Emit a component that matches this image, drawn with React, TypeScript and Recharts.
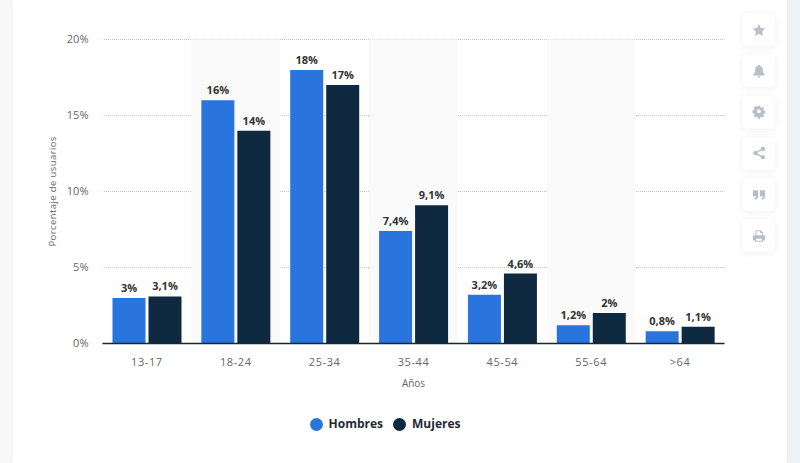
import React from 'react';
import { BarChart, Bar, XAxis, YAxis, CartesianGrid, ReferenceArea, LabelList, Legend } from 'recharts';

const AGE_GROUPS = ['13-17', '18-24', '25-34', '35-44', '45-54', '55-64', '>64'];
const HOMBRES = [3, 16, 18, 7.4, 3.2, 1.2, 0.8];
const MUJERES = [3.1, 14, 17, 9.1, 4.6, 2, 1.1];
const Y_TICKS = [0, 5, 10, 15, 20];
const SHADED_GROUPS = ['18-24', '35-44', '55-64'];

const chartData = AGE_GROUPS.map((age, i) => ({ age, hombres: HOMBRES[i], mujeres: MUJERES[i] }));

const FONT = '"Open Sans", sans-serif';
const formatPercent = (v: number | string) => `${String(v).replace('.', ',')}%`;

const ICONS: React.ReactNode[] = [
  <path d="M8 1l2.2 4.6 5 .7-3.6 3.5.9 5L8 12.4l-4.500 2.400.9-5L.8 6.300l5-.7z" />,
  <path d="M8 1a1.300 1.300 0 0 1 1.300 1.400C11.600 3 12.500 5 12.500 7.500c0 2.500 1 3.600 2 4.500v1h-13v-1c1-.9 2-2 2-4.500 0-2.500.9-4.500 3.200-5.100A1.300 1.300 0 0 1 8 1zM6.300 14h3.400A1.700 1.700 0 0 1 6.300 14z" />,
  <path fillRule="evenodd" d="M6.600 1h2.800l.4 2 1.300.6 1.800-1 1.900 2-1 1.700.5 1.300 2 .5v2.800l-2 .4-.6 1.300 1 1.800-1.900 1.900-1.700-1-1.400.5-.4 2H6.600l-.4-2-1.300-.6-1.800 1-1.900-1.900 1-1.700-.5-1.400-2-.4V6.800l2-.4.6-1.300-1-1.800 1.900-1.900 1.700 1 1.400-.5zM8 5.500a2.500 2.500 0 1 0 0 5 2.500 2.500 0 0 0 0-5z" transform="scale(.88) translate(1 0)" />,
  <path d="M12.500 1a2.500 2.500 0 1 1-1.900 4.100L6.400 7.300a2.500 2.500 0 0 1 0 1.400l4.200 2.200a2.500 2.500 0 1 1-.7 1.300L5.700 9.900a2.500 2.500 0 1 1 0-3.800l4.200-2.300A2.500 2.500 0 0 1 12.500 1z" />,
  <path d="M1 2.500h6V9c0 2.500-1.500 4-4 4.500v-2c1-.3 1.500-.9 1.600-2H1zM9 2.500h6V9c0 2.500-1.500 4-4 4.500v-2c1-.3 1.500-.9 1.600-2H9z" />,
  <path d="M4 1.500h6l2.500 2.500v3h1.500a1.500 1.500 0 0 1 1 1.400V12a1 1 0 0 1-1 1h-1.500v1.500h-9V13H2a1 1 0 0 1-1-1V8.400A1.500 1.500 0 0 1 2.500 7H4zM5.200 2.700V7h6.100V4.700H9.300v-2zM4.700 11.200v2.100h6.600v-2.100z" />,
];

const ActionButtons = () => (
  <div style={{ position: 'absolute', left: 742, top: 13, display: 'flex', flexDirection: 'column', gap: 8.3 }}>
    {ICONS.map((icon, i) => (
      <div
        key={i}
        style={{
          width: 33,
          height: 33,
          background: '#fff',
          borderRadius: 5,
          boxShadow: '0 1px 6px rgba(60,70,90,0.08)',
          display: 'flex',
          alignItems: 'center',
          justifyContent: 'center',
        }}
      >
        <svg width="14" height="14" viewBox="0 0 16 16" fill="#b9bec8">{icon}</svg>
      </div>
    ))}
  </div>
);

const App: React.FC = () => {
  return (
    <div style={{ position: 'absolute', left: 0, top: 0, width: 800, height: 463, overflow: 'hidden', background: 'linear-gradient(90deg, #f8f8f8 0 50%, #eff1f4 50% 100%)' }}>
      <div style={{ position: 'absolute', left: 13, top: 0, width: 774, height: 463, background: '#fff', boxShadow: '0 0 6px rgba(0,0,0,0.03)' }} />
      <div style={{ position: 'absolute', left: 0, top: 0 }}>
        <BarChart
          width={800}
          height={463}
          data={chartData}
          margin={{ top: 39.5, right: 75.5, bottom: 72.5, left: 42.5 }}
          barCategoryGap={10}
          barGap={3}
        >
          {SHADED_GROUPS.map((g) => (
            <ReferenceArea key={g} x1={g} x2={g} fill="#fafafa" fillOpacity={1} stroke="none" />
          ))}
          <CartesianGrid vertical={false} stroke="#bfc3c8" strokeDasharray="1 1" strokeDashoffset={0.5} />
          <XAxis
            dataKey="age"
            tickLine={false}
            axisLine={{ stroke: '#1b2733', strokeWidth: 1.5 }}
            tick={{ fontFamily: FONT, fontSize: 11, fill: '#666', letterSpacing: 0.6 }}
            tickMargin={9}
            height={30}
            label={{ value: 'Años', position: 'insideBottom', offset: -13, fontFamily: FONT, fontSize: 10, fill: '#666' }}
          />
          <YAxis
            width={60}
            domain={[0, 20]}
            ticks={Y_TICKS}
            tickFormatter={formatPercent}
            axisLine={false}
            tickLine={false}
            tick={{ fontFamily: FONT, fontSize: 11, fill: '#666' }}
            tickMargin={8}
            label={{ value: 'Porcentaje de usuarios', angle: -90, position: 'insideLeft', offset: 10, dy: 55, fontFamily: FONT, fontSize: 9.5, fill: '#666', letterSpacing: 0.4 }}
          />
          <Legend
            verticalAlign="bottom"
            iconType="circle"
            iconSize={13}
            wrapperStyle={{ position: 'absolute', left: 79, width: 622, bottom: 31, fontFamily: FONT, fontSize: 12, fontWeight: 700 }}
            formatter={(value: string) => <span style={{ color: '#1f2a36', marginLeft: 2 }}>{value}</span>}
          />
          <Bar dataKey="hombres" name="Hombres" fill="#2a74dd" isAnimationActive={false}>
            <LabelList dataKey="hombres" position="top" offset={6} formatter={formatPercent} style={{ fontFamily: FONT, fontSize: 11, fontWeight: 700, fill: '#333' }} />
          </Bar>
          <Bar dataKey="mujeres" name="Mujeres" fill="#0f2a40" isAnimationActive={false}>
            <LabelList dataKey="mujeres" position="top" offset={6} formatter={formatPercent} style={{ fontFamily: FONT, fontSize: 11, fontWeight: 700, fill: '#333' }} />
          </Bar>
        </BarChart>
      </div>
      <ActionButtons />
    </div>
  );
};

export default App;
